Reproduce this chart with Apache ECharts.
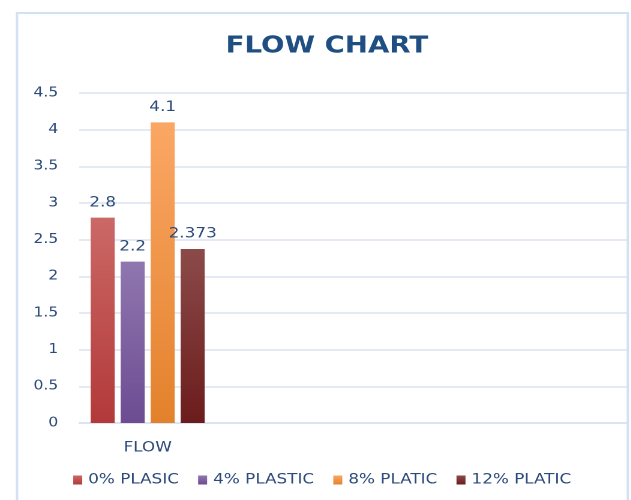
<!DOCTYPE html>
<html>
<head>
<meta charset="utf-8">
<script src="https://cdn.jsdelivr.net/npm/echarts@6/dist/echarts.min.js"></script>
<style>
  html, body { margin: 0; padding: 0; background: #fff; overflow: hidden; }
  /* The chart is laid out narrower and widened horizontally, giving the wide lettering */
  #chart { width: 526px; height: 500px; transform: scaleX(1.2); transform-origin: 0 0; }
</style>
</head>
<body>
<div id="chart"></div>
<script>
// Category slots on the x axis (only the first one carries data)
const categories = ['FLOW', '', '', ''];
// Series names as shown in the legend
const seriesNames = ['0% PLASIC', '4% PLASTIC', '8% PLATIC', '12% PLATIC'];
// Flow value for each plastic content
const flow0 = [2.8];
const flow4 = [2.2];
const flow8 = [4.1];
const flow12 = [2.373];
// Y axis ticks
const yTicks = [0, 0.5, 1, 1.5, 2, 2.5, 3, 3.5, 4, 4.5];

const textColor = '#2C4A7A';
const fontFam = '"DejaVu Sans", "Open Sans", sans-serif';

const palette = [
  { top: '#CB6966', bottom: '#B3393A', solid: '#C0504D' },
  { top: '#9077B0', bottom: '#6D4C92', solid: '#8064A2' },
  { top: '#FBA765', bottom: '#E3822C', solid: '#F79646' },
  { top: '#8B4B49', bottom: '#6C1C1C', solid: '#772C2A' }
];

function grad(p) {
  return new echarts.graphic.LinearGradient(0, 0, 0, 1, [
    { offset: 0, color: p.top },
    { offset: 1, color: p.bottom }
  ]);
}

const values = [flow0, flow4, flow8, flow12];

const chart = echarts.init(document.getElementById('chart'), null, { renderer: 'canvas', devicePixelRatio: 2 });

chart.setOption({
  animation: false,
  backgroundColor: '#ffffff',
  color: palette.map(p => p.solid),
  title: {
    text: 'FLOW CHART',
    left: 183,
    top: 30,
    textStyle: { color: '#1F4E82', fontSize: 23, fontWeight: 'bold', fontFamily: fontFam }
  },
  graphic: [{
    type: 'rect',
    shape: { x: 14.2, y: 13, width: 509, height: 500 },
    style: { fill: 'none', stroke: '#D3E1F3', lineWidth: 2 },
    z: 100,
    silent: true
  }],
  legend: {
    data: seriesNames,
    left: 56,
    top: 468,
    itemWidth: 7.5,
    itemHeight: 9,
    itemGap: 16,
    icon: 'rect',
    textStyle: { color: textColor, fontSize: 14, fontFamily: fontFam }
  },
  grid: { left: 66, right: 3.5, top: 93, bottom: 77 },
  xAxis: {
    type: 'category',
    data: categories,
    axisLine: { show: true, lineStyle: { color: '#D6E0EE', width: 1.5 } },
    axisTick: { show: false },
    axisLabel: { color: textColor, fontSize: 14, fontFamily: fontFam, margin: 18 }
  },
  yAxis: {
    type: 'value',
    min: yTicks[0],
    max: yTicks[yTicks.length - 1],
    interval: 0.5,
    axisLine: { show: false },
    axisTick: { show: false },
    splitLine: { lineStyle: { color: '#DAE3EF', width: 1.5 } },
    axisLabel: { color: textColor, fontSize: 13, fontFamily: fontFam, margin: 17.5 }
  },
  series: seriesNames.map((name, i) => ({
    name: name,
    type: 'bar',
    data: values[i],
    barWidth: 20,
    barGap: '25%',
    itemStyle: { color: grad(palette[i]) },
    label: {
      show: true,
      position: 'top',
      distance: 8,
      color: textColor,
      fontSize: 14,
      fontFamily: fontFam
    }
  }))
});
</script>
</body>
</html>
